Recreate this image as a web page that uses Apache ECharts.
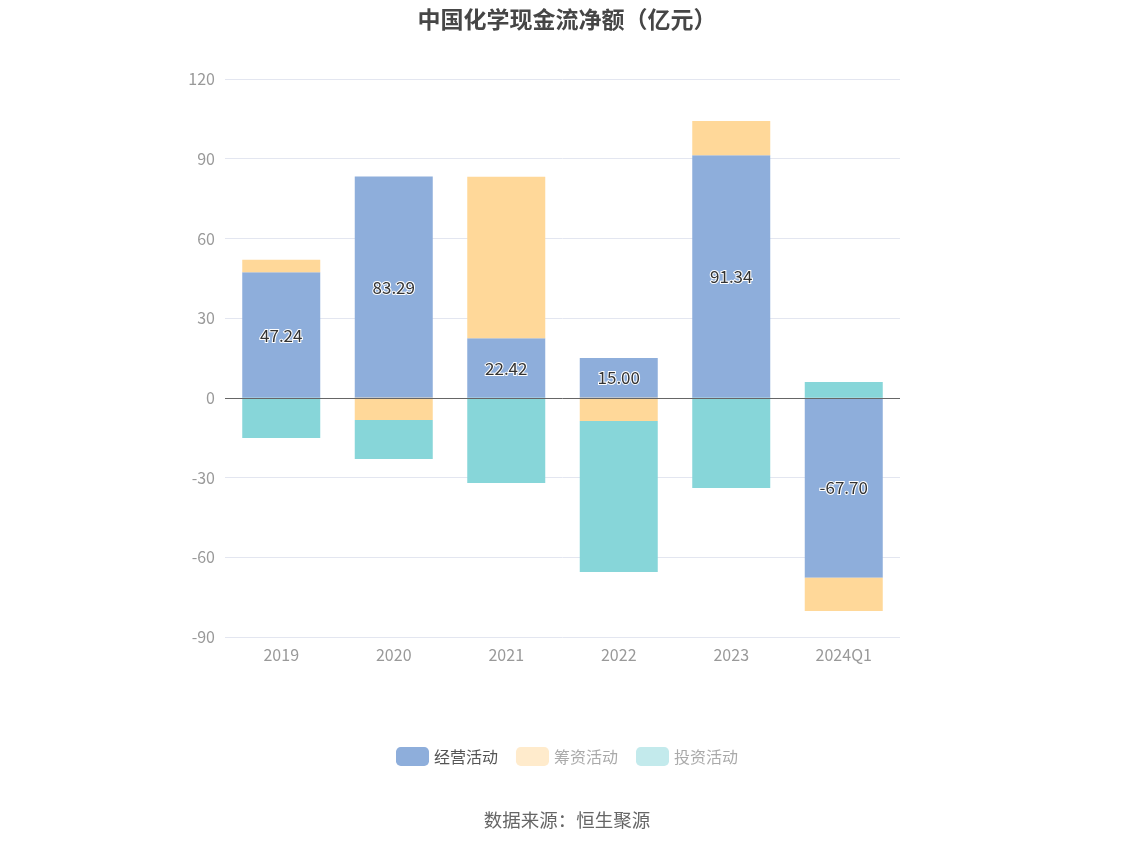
<!DOCTYPE html>
<html><head><meta charset="utf-8">
<script src="https://cdn.jsdelivr.net/npm/echarts@6/dist/echarts.min.js"></script>
<style>html,body{margin:0;padding:0;background:#fff}#c{width:1134px;height:849px}</style>
</head><body><div id="c"></div>
<script>
const categories = ['2019','2020','2021','2022','2023','2024Q1'];
const operating = [47.24, 83.29, 22.42, 15.00, 91.34, -67.70];
const financing = [4.7, -8.3, 60.8, -8.7, 12.9, -12.5];
const investing = [-15.1, -14.7, -32.0, -56.8, -33.9, 6.0];
const yTicks = {min: -90, max: 120, interval: 30};

const chart = echarts.init(document.getElementById('c'));
const font = '"Microsoft YaHei","Noto Sans CJK SC",sans-serif';
chart.setOption({
  animation: false,
  title: {text: '中国化学现金流净额（亿元）', left: 'center', top: 3,
    textStyle: {fontSize: 23, fontWeight: 'bold', color: '#464646', fontFamily: font}},
  legend: {bottom: 78, left: 'center', itemWidth: 33, itemHeight: 19, itemGap: 18,
    textStyle: {fontSize: 16, color: '#555', fontFamily: font},
    data: [
      {name: '经营活动'},
      {name: '筹资活动', itemStyle: {opacity: 0.5}, textStyle: {color: '#aaa'}},
      {name: '投资活动', itemStyle: {opacity: 0.5}, textStyle: {color: '#aaa'}}
    ]},
  graphic: [{type: 'text', left: 'center', top: 811,
    style: {text: '数据来源：恒生聚源', fontSize: 18.5, fill: '#666', fontFamily: font}}],
  grid: {left: 225, right: 234, top: 79, bottom: 212},
  xAxis: {type: 'category', data: categories,
    axisLine: {show: false}, axisTick: {show: false},
    axisLabel: {color: '#999', fontSize: 16, margin: 10, fontFamily: font}},
  yAxis: {type: 'value', min: yTicks.min, max: yTicks.max, interval: yTicks.interval,
    axisLabel: {color: '#999', fontSize: 16, margin: 10, fontFamily: font},
    splitLine: {lineStyle: {color: '#e3e6f0'}}},
  series: [
    {name: '经营活动', type: 'bar', stack: 'a', data: operating, barWidth: 78,
      itemStyle: {color: '#8eaedb'},
      label: {show: true, position: 'inside', fontSize: 17, color: '#333',
        textBorderColor: '#fff', textBorderWidth: 2, fontFamily: font,
        formatter: p => p.value.toFixed(2)},
      markLine: {silent: true, symbol: 'none', label: {show: false},
        lineStyle: {color: '#666', type: 'solid', width: 1},
        data: [{yAxis: 0}]}},
    {name: '筹资活动', type: 'bar', stack: 'a', data: financing, barWidth: 78,
      itemStyle: {color: '#ffd899'}},
    {name: '投资活动', type: 'bar', stack: 'a', data: investing, barWidth: 78,
      itemStyle: {color: '#87d6d9'}}
  ]
});
</script></body></html>
